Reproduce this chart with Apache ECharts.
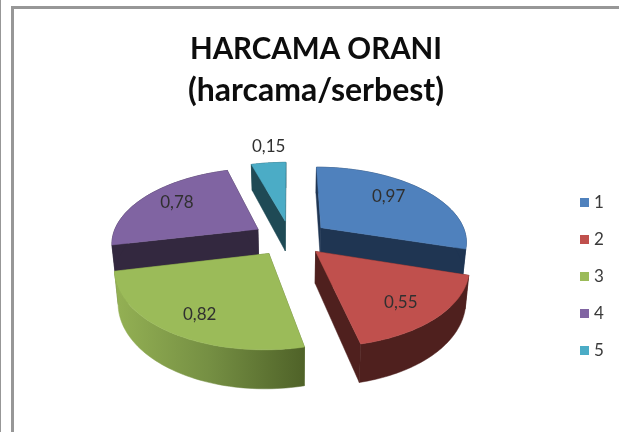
<!DOCTYPE html>
<html><head><meta charset="utf-8">
<style>html,body{margin:0;padding:0;background:#fff}#c{width:619px;height:432px}</style>
<script src="https://cdn.jsdelivr.net/npm/echarts@6/dist/echarts.min.js"></script>
</head><body><div id="c"></div>
<script>
const categories = ['1','2','3','4','5'];
const values = [0.97,0.55,0.82,0.78,0.15];
const labels = ['0,97','0,55','0,82','0,78','0,15'];
const topColors = ['#4F81BD','#C0504D','#9BBB59','#8064A2','#4BACC6'];
const wallColors = ['#1F3552','#4F201E','#5E7335','#33283F','#1F4A55'];
const paintOrder = [4,3,0,2,1];
const explodeX = [0.27,0.25,0.26,0.26,0.24];
const labelRadiusX = [0.66,0.72,0.72,0.72,1.05];
const labelRadiusY = [0.8,0.8,0.8,0.8,1.35];

const total = values.reduce((a,b)=>a+b,0);
const cx=290, cy=238, A=146, B=74, K=0.17, EXPLODE=0.24, DEPTH=31, TAPER=0.98;
const starts=[]; let acc=0;
values.forEach(v=>{starts.push(acc); acc+=v/total*Math.PI*2;});
function proj(X,Y){const f=1/(1+K*Y);return {x:cx+A*X*f,y:cy-B*Y*f,f};}
function down(p){return [cx+(p.x-cx)*TAPER,p.y+DEPTH*p.f];}
function up(p){return [p.x,p.y];}

function renderSlice(i){
  return function(){
    const a0=starts[i], a1=a0+values[i]/total*Math.PI*2, mid=(a0+a1)/2;
    const ax=explodeX[i]*Math.sin(mid), ay=EXPLODE*Math.cos(mid);
    const apex=proj(ax,ay);
    const rim=[]; const n=60;
    for(let k=0;k<=n;k++){const t=a0+(a1-a0)*k/n;rim.push(proj(ax+Math.sin(t),ay+Math.cos(t)));}
    const first=rim[0], last=rim[n];
    const children=[];
    const wall=(pts,fill)=>children.push({type:'polygon',shape:{points:pts},style:{fill:fill,stroke:fill,lineWidth:0.5},silent:true});
    wall([up(apex),up(first),down(first),down(apex)],wallColors[i]);
    wall([up(apex),up(last),down(last),down(apex)],wallColors[i]);
    let rimFill=wallColors[i];
    if(i===2) rimFill=new echarts.graphic.LinearGradient(0,0,1,0,[{offset:0,color:'#94B154'},{offset:0.5,color:'#758F43'},{offset:1,color:'#4F6228'}]);
    wall(rim.map(up).concat(rim.slice().reverse().map(down)),rimFill);
    wall([up(apex)].concat(rim.map(up)),topColors[i]);
    const lp=proj(ax+labelRadiusX[i]*Math.sin(mid),ay+labelRadiusY[i]*Math.cos(mid));
    children.push({type:'text',silent:true,z2:10,style:{x:lp.x,y:lp.y,text:labels[i],fill:'#303030',font:'17px Lato',align:'center',verticalAlign:'middle'}});
    return {type:'group',children};
  };
}

const series = paintOrder.map(i=>({
  type:'custom',name:categories[i],coordinateSystem:'none',
  itemStyle:{color:topColors[i]},data:[[values[i]]],
  renderItem:renderSlice(i),animation:false,silent:true,clip:false
}));

const frame='#979797';
echarts.init(document.getElementById('c'),null,{renderer:'canvas'}).setOption({
  animation:false,backgroundColor:'#fff',
  title:{text:'{a|HARCAMA ORANI}\n{b|(harcama/serbest)}',left:311,top:24,textAlign:'center',
    textStyle:{rich:{
      a:{fontFamily:'Lato',fontSize:29.5,fontWeight:'bold',color:'#0d0d0d',lineHeight:41,align:'center'},
      b:{fontFamily:'Lato',fontSize:32,fontWeight:'bold',color:'#0d0d0d',lineHeight:41,align:'center'}}}},
  legend:{orient:'vertical',left:575,top:189,itemWidth:9,itemHeight:9,itemGap:20,icon:'rect',
    data:categories,selectedMode:false,
    textStyle:{fontFamily:'Lato',fontSize:17,color:'#3a3a3a'},
    formatter:n=>n},
  series,
  graphic:[
    {type:'rect',shape:{x:11,y:6,width:608,height:3},style:{fill:frame},silent:true},
    {type:'rect',shape:{x:11,y:6,width:3,height:426},style:{fill:frame},silent:true},
    {type:'rect',shape:{x:0,y:0,width:1,height:432},style:{fill:frame},silent:true}
  ]
});
</script></body></html>
